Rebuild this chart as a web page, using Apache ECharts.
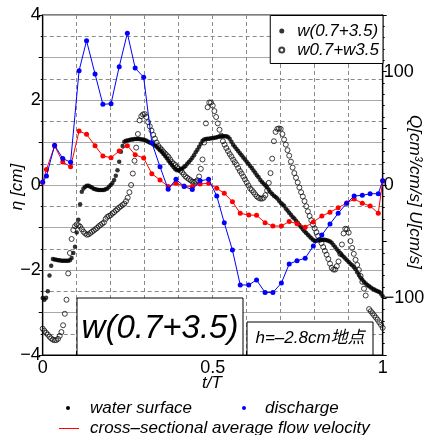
<!DOCTYPE html>
<html><head><meta charset="utf-8">
<script src="https://cdn.jsdelivr.net/npm/echarts@6/dist/echarts.min.js"></script>
<style>html,body{margin:0;padding:0;background:#fff}#c{width:424px;height:435px}</style>
</head><body><div id="c"></div>
<script>
// time t/T for discharge & velocity samples
const tFlow = [0,0.011,0.035,0.059,0.082,0.107,0.129,0.154,0.177,0.201,0.225,0.249,0.272,0.297,0.321,0.345,0.369,0.392,0.416,0.440,0.463,0.488,0.512,0.534,0.558,0.581,0.606,0.629,0.654,0.677,0.702,0.725,0.748,0.772,0.796,0.821,0.845,0.869,0.894,0.916,0.940,0.963,0.987,1];
// discharge Q [cm^3/cm/s]
const discharge = [2.6,7.9,35.0,23.4,20.0,100.9,127.3,97.9,71.2,71.7,104.4,133.9,103.2,95.0,37.3,16.1,-3.8,5.1,-1.3,-4.0,3.7,5.0,-9.7,-33.3,-57.4,-88.2,-88.2,-83.8,-94.9,-94.9,-86.5,-69.7,-66.8,-64.6,-53.8,-44.1,-34.4,-25.0,-16.1,-9.7,-9.1,-7.7,-7.7,3.8];
// cross-sectional average flow velocity U [cm/s]
const velocity = [2.2,13.7,34.4,20.3,16.1,47.6,44.7,34.6,25.6,24.1,30.0,34.7,26.7,23.8,10.0,4.4,-1.3,1.5,-0.9,-1.3,0.9,1.5,-2.9,-7.3,-14.7,-25.0,-26.5,-26.7,-33.3,-36.2,-36.2,-32.2,-34.1,-37.2,-32.6,-27.4,-24.0,-20.1,-15.9,-12.4,-16.1,-18.5,-25.0,3.8];
// water surface w(0.7+3.5): [t/T, eta cm]
const waterSurface = [[0,-2.66],[0.005,-2.7],[0.01,-2.65],[0.015,-2.5],[0.02,-2.13],[0.025,-1.9],[0.03,-1.74],[0.035,-1.75],[0.04,-1.76],[0.045,-1.77],[0.05,-1.77],[0.055,-1.78],[0.06,-1.78],[0.065,-1.78],[0.07,-1.78],[0.075,-1.78],[0.08,-1.77],[0.085,-1.72],[0.09,-1.6],[0.095,-1.45],[0.1,-1.12],[0.105,-0.82],[0.11,-0.45],[0.115,-0.16],[0.12,-0.08],[0.125,-0.04],[0.13,-0.02],[0.135,-0.02],[0.14,-0.04],[0.145,-0.06],[0.15,-0.09],[0.155,-0.1],[0.16,-0.11],[0.165,-0.12],[0.17,-0.12],[0.175,-0.12],[0.18,-0.12],[0.185,-0.1],[0.19,-0.08],[0.195,-0.04],[0.2,0.0],[0.205,0.05],[0.21,0.12],[0.215,0.22],[0.22,0.35],[0.225,0.55],[0.23,0.78],[0.235,0.92],[0.24,1.02],[0.245,1.04],[0.25,1.05],[0.255,1.06],[0.26,1.07],[0.265,1.07],[0.27,1.08],[0.275,1.08],[0.28,1.08],[0.285,1.08],[0.29,1.07],[0.295,1.07],[0.3,1.06],[0.305,1.04],[0.31,1.02],[0.315,1.0],[0.32,0.98],[0.325,0.96],[0.33,0.93],[0.335,0.9],[0.34,0.86],[0.345,0.82],[0.35,0.78],[0.355,0.73],[0.36,0.68],[0.365,0.63],[0.37,0.57],[0.375,0.52],[0.38,0.47],[0.385,0.42],[0.39,0.37],[0.395,0.35],[0.4,0.35],[0.405,0.37],[0.41,0.39],[0.415,0.42],[0.42,0.45],[0.425,0.5],[0.43,0.54],[0.435,0.59],[0.44,0.64],[0.445,0.7],[0.45,0.77],[0.455,0.83],[0.46,0.9],[0.465,0.97],[0.47,1.04],[0.475,1.07],[0.48,1.08],[0.485,1.09],[0.49,1.09],[0.495,1.1],[0.5,1.1],[0.505,1.11],[0.51,1.12],[0.515,1.13],[0.52,1.14],[0.525,1.15],[0.53,1.15],[0.535,1.15],[0.54,1.15],[0.545,1.13],[0.55,1.09],[0.555,1.02],[0.56,0.95],[0.565,0.9],[0.57,0.85],[0.575,0.8],[0.58,0.75],[0.585,0.7],[0.59,0.65],[0.595,0.6],[0.6,0.55],[0.605,0.5],[0.61,0.45],[0.615,0.4],[0.62,0.34],[0.625,0.29],[0.63,0.23],[0.635,0.18],[0.64,0.12],[0.645,0.07],[0.65,0.03],[0.655,-0.01],[0.66,-0.05],[0.665,-0.11],[0.67,-0.17],[0.675,-0.21],[0.68,-0.25],[0.685,-0.28],[0.69,-0.32],[0.695,-0.37],[0.7,-0.42],[0.705,-0.45],[0.71,-0.49],[0.715,-0.55],[0.72,-0.6],[0.725,-0.65],[0.73,-0.7],[0.735,-0.75],[0.74,-0.79],[0.745,-0.84],[0.75,-0.89],[0.755,-0.94],[0.76,-0.99],[0.765,-1.04],[0.77,-1.09],[0.775,-1.13],[0.78,-1.17],[0.785,-1.21],[0.79,-1.25],[0.795,-1.29],[0.8,-1.32],[0.805,-1.31],[0.81,-1.3],[0.815,-1.29],[0.82,-1.29],[0.825,-1.29],[0.83,-1.29],[0.835,-1.3],[0.84,-1.31],[0.845,-1.33],[0.85,-1.36],[0.855,-1.41],[0.86,-1.46],[0.865,-1.51],[0.87,-1.56],[0.875,-1.61],[0.88,-1.65],[0.885,-1.69],[0.89,-1.73],[0.895,-1.77],[0.9,-1.81],[0.905,-1.85],[0.91,-1.89],[0.915,-1.93],[0.92,-1.98],[0.925,-2.05],[0.93,-2.12],[0.935,-2.18],[0.94,-2.23],[0.945,-2.28],[0.95,-2.32],[0.955,-2.35],[0.96,-2.38],[0.965,-2.41],[0.97,-2.44],[0.975,-2.46],[0.98,-2.48],[0.985,-2.5],[0.99,-2.52],[0.995,-2.56],[1.0,-2.62]];
// linear sum w0.7+w3.5: [t/T, eta cm]
const linearSum = [[0,-3.38],[0.005,-3.43],[0.01,-3.48],[0.015,-3.52],[0.02,-3.57],[0.025,-3.61],[0.03,-3.64],[0.035,-3.65],[0.04,-3.65],[0.045,-3.62],[0.05,-3.55],[0.055,-3.46],[0.06,-3.3],[0.065,-3.03],[0.07,-2.7],[0.075,-2.08],[0.08,-1.6],[0.085,-1.27],[0.09,-1.06],[0.095,-0.97],[0.1,-0.93],[0.105,-0.95],[0.11,-0.98],[0.115,-1.04],[0.12,-1.1],[0.125,-1.14],[0.13,-1.17],[0.135,-1.16],[0.14,-1.13],[0.145,-1.1],[0.15,-1.07],[0.155,-1.04],[0.16,-1.01],[0.165,-0.97],[0.17,-0.94],[0.175,-0.91],[0.18,-0.88],[0.185,-0.8],[0.19,-0.75],[0.195,-0.73],[0.2,-0.71],[0.205,-0.67],[0.21,-0.64],[0.215,-0.6],[0.22,-0.57],[0.225,-0.53],[0.23,-0.5],[0.235,-0.47],[0.24,-0.44],[0.245,-0.38],[0.25,-0.3],[0.255,-0.17],[0.26,0.0],[0.265,0.27],[0.27,0.57],[0.275,0.88],[0.28,1.2],[0.285,1.52],[0.29,1.62],[0.295,1.66],[0.3,1.67],[0.305,1.6],[0.31,1.48],[0.315,1.38],[0.32,1.28],[0.325,1.18],[0.33,1.09],[0.335,1.0],[0.34,0.92],[0.345,0.87],[0.35,0.83],[0.355,0.78],[0.36,0.74],[0.365,0.7],[0.37,0.66],[0.375,0.6],[0.38,0.54],[0.385,0.5],[0.39,0.47],[0.395,0.42],[0.4,0.38],[0.405,0.34],[0.41,0.3],[0.415,0.25],[0.42,0.2],[0.425,0.17],[0.43,0.14],[0.435,0.11],[0.44,0.08],[0.445,0.07],[0.45,0.08],[0.455,0.11],[0.46,0.2],[0.465,0.38],[0.47,0.6],[0.475,1.0],[0.48,1.45],[0.485,1.83],[0.49,1.94],[0.495,1.94],[0.5,1.87],[0.505,1.74],[0.51,1.6],[0.515,1.45],[0.52,1.3],[0.525,1.16],[0.53,1.03],[0.535,0.95],[0.54,0.87],[0.545,0.8],[0.55,0.73],[0.555,0.67],[0.56,0.6],[0.565,0.54],[0.57,0.48],[0.575,0.4],[0.58,0.33],[0.585,0.27],[0.59,0.2],[0.595,0.13],[0.6,0.06],[0.605,-0.01],[0.61,-0.08],[0.615,-0.12],[0.62,-0.17],[0.625,-0.22],[0.63,-0.27],[0.635,-0.3],[0.64,-0.32],[0.645,-0.32],[0.65,-0.3],[0.655,-0.24],[0.66,-0.13],[0.665,0.05],[0.67,0.28],[0.675,0.62],[0.68,1.03],[0.685,1.25],[0.69,1.32],[0.695,1.33],[0.7,1.32],[0.705,1.2],[0.71,1.07],[0.715,0.95],[0.72,0.82],[0.725,0.69],[0.73,0.55],[0.735,0.41],[0.74,0.28],[0.745,0.17],[0.75,0.06],[0.755,-0.06],[0.76,-0.17],[0.765,-0.27],[0.77,-0.38],[0.775,-0.5],[0.78,-0.62],[0.785,-0.73],[0.79,-0.83],[0.795,-0.93],[0.8,-1.02],[0.805,-1.11],[0.81,-1.2],[0.815,-1.29],[0.82,-1.37],[0.825,-1.46],[0.83,-1.55],[0.835,-1.64],[0.84,-1.74],[0.845,-1.85],[0.85,-1.95],[0.855,-1.99],[0.86,-1.99],[0.865,-1.91],[0.87,-1.8],[0.875,-1.62],[0.88,-1.4],[0.885,-1.14],[0.89,-1.03],[0.895,-1.04],[0.9,-1.12],[0.905,-1.32],[0.91,-1.48],[0.915,-1.62],[0.92,-1.76],[0.925,-1.88],[0.93,-2.0],[0.935,-2.14],[0.94,-2.28],[0.945,-2.44],[0.95,-2.6],[0.96,-2.92],[0.965,-2.97],[0.97,-3.02],[0.975,-3.07],[0.98,-3.12],[0.985,-3.17],[0.99,-3.23],[0.995,-3.29],[1.0,-3.36]];
// tick labels
const xTickLabels = {0:'0',5:'0.5',10:'1'};          // keyed by t*10
const etaTickLabels = {'-4':'−4','-2':'−2','0':'0','2':'2','4':'4'};
const qTickLabels = {'-100':'−100','0':'0','100':'100'};

const FONT = "'Liberation Sans', Arial, 'Noto Sans CJK JP', sans-serif";
const chart = echarts.init(document.getElementById('c'), null, {renderer:'canvas'});
const flowData = arr => tFlow.map((t,i)=>[t, arr[i]]);

chart.setOption({
  animation: false,
  backgroundColor: '#fff',
  grid: {left: 42.7, right: 41.3, top: 15, bottom: 80, containLabel: false, outerBoundsMode: 'none', show: true, borderColor: '#000', borderWidth: 1.2, backgroundColor: 'transparent'},
  xAxis: {
    type: 'value', min: 0, max: 1, interval: 0.1,
    axisLine: {show: true, onZero: false, lineStyle: {color: '#000', width: 1.2}},
    axisTick: {show: true, inside: true, length: 4, lineStyle: {color: '#000'}},
    axisLabel: {color: '#000', fontSize: 18, fontFamily: FONT, margin: 4,
      formatter: v => xTickLabels[Math.round(v*10)] !== undefined && Math.abs(v*10-Math.round(v*10))<1e-6 ? xTickLabels[Math.round(v*10)] : ''},
    splitLine: {show: true, lineStyle: {color: '#8a8a8a', type: [4,3], width: 1}}
  },
  yAxis: [{
    type: 'value', min: -4, max: 4, interval: 1,
    axisLine: {show: true, onZero: false, lineStyle: {color: '#000', width: 1.2}},
    axisTick: {show: true, inside: false, length: 4, lineStyle: {color: '#000'}},
    minorTick: {show: true, splitNumber: 2, length: 2, lineStyle: {color: '#000'}},
    axisLabel: {color: '#000', fontSize: 18, fontFamily: FONT, margin: 2,
      formatter: v => etaTickLabels[String(Math.round(v))] || ''},
    splitLine: {show: true, lineStyle: {color: '#a8a8a8', width: 1}},
    minorSplitLine: {show: true, lineStyle: {color: '#8a8a8a', type: [4,3], width: 1}}
  },{
    type: 'value', min: -150, max: 150, interval: 50, position: 'right',
    axisLine: {show: true, onZero: false, lineStyle: {color: '#000', width: 1.2}},
    axisTick: {show: true, inside: false, length: 4, lineStyle: {color: '#000'}},
    minorTick: {show: true, splitNumber: 5, length: 2, lineStyle: {color: '#000'}},
    axisLabel: {color: '#000', fontSize: 18, fontFamily: FONT, margin: 1,
      formatter: v => qTickLabels[String(Math.round(v))] || ''},
    splitLine: {show: false}
  }],
  legend: {
    right: 41, top: 15.5, orient: 'vertical', align: 'left',
    backgroundColor: '#fff', borderColor: '#000', borderWidth: 1, borderRadius: 0,
    padding: [7, 4, 5, 8], itemGap: 2, itemWidth: 5, itemHeight: 5,
    textStyle: {fontSize: 17, fontStyle: 'italic', fontFamily: FONT, color: '#000', padding: [0,0,0,8]},
    data: ['w(0.7+3.5)', 'w0.7+w3.5']
  },
  series: [
    {name: 'w0.7+w3.5', type: 'scatter', data: linearSum, symbol: 'circle', symbolSize: 5,
     itemStyle: {color: 'rgba(255,255,255,0)', borderColor: '#111', borderWidth: 1}, z: 3},
    {name: 'w(0.7+3.5)', type: 'scatter', data: waterSurface, symbol: 'circle', symbolSize: 4.5,
     itemStyle: {color: '#000'}, z: 4},
    {name: 'velocity', type: 'line', yAxisIndex: 1, data: flowData(velocity), symbol: 'circle', symbolSize: 5,
     lineStyle: {color: '#ff0000', width: 1}, itemStyle: {color: '#ff0000'}, z: 5},
    {name: 'discharge', type: 'line', yAxisIndex: 1, data: flowData(discharge), symbol: 'circle', symbolSize: 5,
     lineStyle: {color: '#0000ff', width: 1}, itemStyle: {color: '#0000ff'}, z: 6}
  ],
  graphic: [
    {type: 'rect', z: 100, shape: {x: 77, y: 298, width: 166, height: 57}, style: {fill: '#fff', stroke: '#000', lineWidth: 1}},
    {type: 'text', z: 101, x: 160, y: 329, style: {text: 'w(0.7+3.5)', font: "italic 33px " + FONT, fill: '#000', align: 'center', verticalAlign: 'middle', textAlign: 'center', textVerticalAlign: 'middle'}},
    {type: 'rect', z: 100, shape: {x: 247, y: 322, width: 126, height: 33}, style: {fill: '#fff', stroke: '#000', lineWidth: 1}},
    {type: 'text', z: 101, x: 310, y: 338.5, style: {text: 'h=–2.8cm地点', font: "italic 17px " + FONT, fill: '#000', align: 'center', verticalAlign: 'middle', textAlign: 'center', textVerticalAlign: 'middle'}},
    {type: 'text', z: 101, x: 212, y: 383, style: {text: 't/T', font: "italic 17px " + FONT, fill: '#000', align: 'center', verticalAlign: 'middle', textAlign: 'center', textVerticalAlign: 'middle'}},
    {type: 'text', z: 101, x: 17, y: 187, rotation: Math.PI/2, style: {text: 'η [cm]', font: "italic 17px " + FONT, fill: '#000', align: 'center', verticalAlign: 'middle', textAlign: 'center', textVerticalAlign: 'middle'}},
    {type: 'text', z: 101, x: 415, y: 192, rotation: -Math.PI/2, style: {text: 'Q[cm³/cm/s] U[cm/s]', font: "italic 17px " + FONT, fill: '#000', align: 'center', verticalAlign: 'middle', textAlign: 'center', textVerticalAlign: 'middle'}},
    {type: 'circle', z: 101, shape: {cx: 68, cy: 408, r: 2}, style: {fill: '#000'}},
    {type: 'text', z: 101, x: 90, y: 408, style: {text: 'water surface', font: "italic 17px " + FONT, fill: '#000', align: 'left', verticalAlign: 'middle', textAlign: 'left', textVerticalAlign: 'middle'}},
    {type: 'circle', z: 101, shape: {cx: 244, cy: 408, r: 2}, style: {fill: '#0000ff'}},
    {type: 'text', z: 101, x: 265, y: 408, style: {text: 'discharge', font: "italic 17px " + FONT, fill: '#000', align: 'left', verticalAlign: 'middle', textAlign: 'left', textVerticalAlign: 'middle'}},
    {type: 'line', z: 101, shape: {x1: 59, y1: 428.5, x2: 79, y2: 428.5}, style: {stroke: '#ff0000', lineWidth: 1}},
    {type: 'text', z: 101, x: 90, y: 428, style: {text: 'cross–sectional average flow velocity', font: "italic 17px " + FONT, fill: '#000', align: 'left', verticalAlign: 'middle', textAlign: 'left', textVerticalAlign: 'middle'}}
  ]
});
</script></body></html>
